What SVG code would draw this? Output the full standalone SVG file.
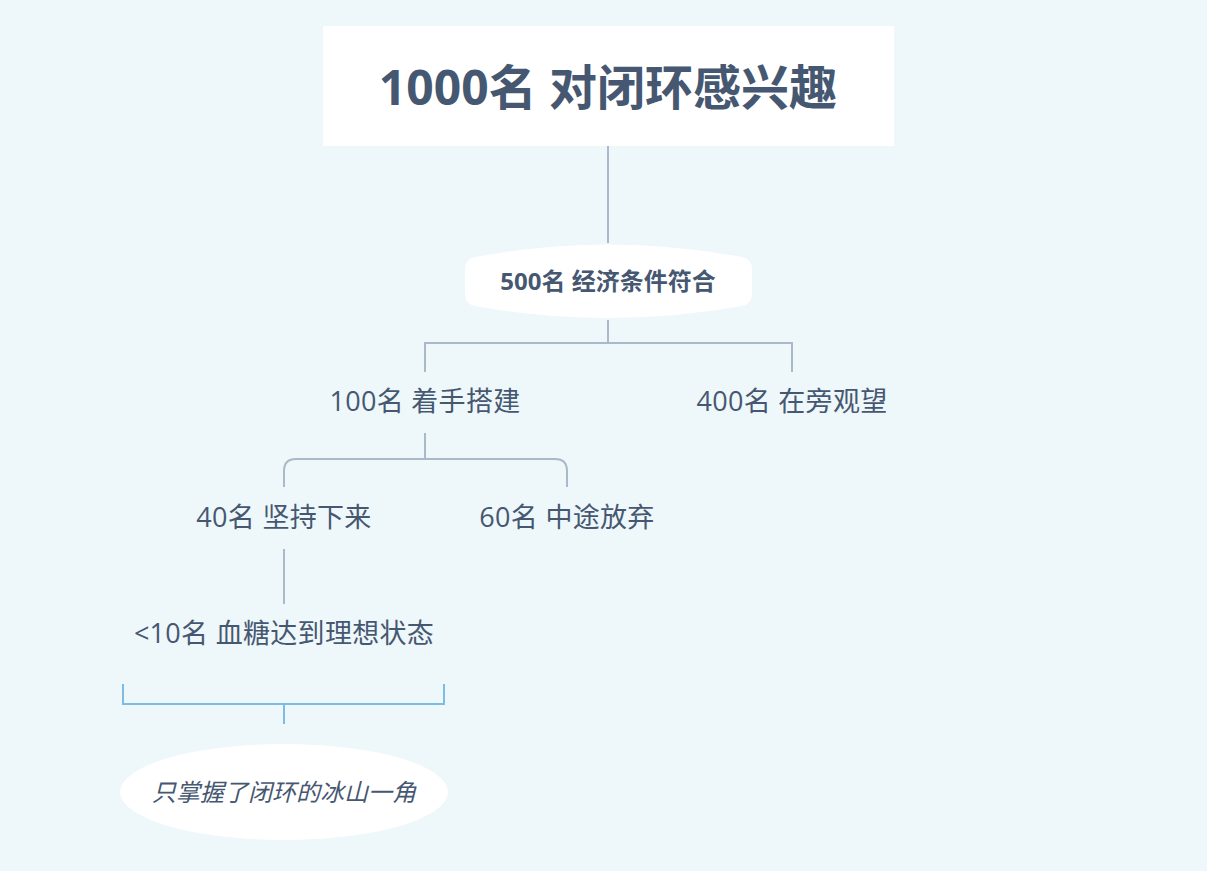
<svg xmlns="http://www.w3.org/2000/svg" width="1207" height="871" viewBox="0 0 1207 871">
<style>
  text { font-family: "Open Sans", "Noto Sans CJK SC", sans-serif; fill: #465771; text-anchor: middle; }
  .title { font-size: 48px; font-weight: bold; }
  .sub { font-size: 24px; font-weight: bold; }
  .item { font-size: 27px; letter-spacing: 0.3px; }
  .note { font-size: 24px; font-style: italic; }
  .ln { fill: none; stroke: #a9b9c9; stroke-width: 2; }
  .bl { fill: none; stroke: #7cbde6; stroke-width: 2; }
</style>
<rect x="0" y="0" width="1207" height="871" fill="#eef7fa"/>
<g id="connectors">
  <path class="ln" d="M608 146 V243"/>
  <path class="ln" d="M608 320 V343 M425 372 V343 H792 V372"/>
  <path class="ln" d="M425 433 V459 M284 487 V471 Q284 459 296 459 H555 Q567 459 567 471 V487"/>
  <path class="ln" d="M284 549 V604"/>
  <path class="bl" d="M123 684 V704 H444 V684 M284 704 V724"/>
</g>
<g id="n1000">
  <rect x="323" y="26" width="571" height="120" fill="#ffffff"/>
  <text class="title" x="608" y="105">1000名 对闭环感兴趣</text>
</g>
<g id="n500">
  <path d="M475 257 Q608 232 742 257 Q752 259 752 269 L752 294 Q752 304 742 306 Q608 330 475 306 Q465 304 465 294 L465 269 Q465 259 475 257 Z" fill="#ffffff"/>
  <text class="sub" x="608" y="290">500名 经济条件符合</text>
</g>
<g id="n100">
  <text class="item" x="425" y="411">100名 着手搭建</text>
</g>
<g id="n400">
  <text class="item" x="792" y="411">400名 在旁观望</text>
</g>
<g id="n40">
  <text class="item" x="284" y="527">40名 坚持下来</text>
</g>
<g id="n60">
  <text class="item" x="567" y="527">60名 中途放弃</text>
</g>
<g id="n10">
  <text class="item" x="284" y="643">&lt;10名 血糖达到理想状态</text>
</g>
<g id="note">
  <ellipse cx="284" cy="792" rx="164" ry="48" fill="#ffffff"/>
  <text class="note" x="284" y="801">只掌握了闭环的冰山一角</text>
</g>
</svg>
